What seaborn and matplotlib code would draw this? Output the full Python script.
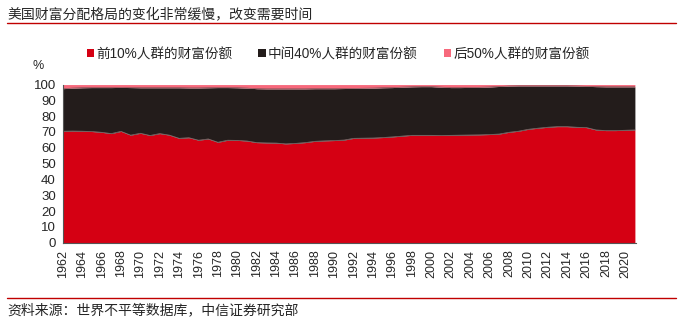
import matplotlib
matplotlib.use("Agg")
import matplotlib.pyplot as plt
import seaborn as sns
import numpy as np
import pandas as pd
from matplotlib.patches import Patch
from matplotlib.lines import Line2D

years = list(range(1962, 2022))
top10 = [70.5, 70.6, 70.5, 70.3, 69.8, 69.0, 70.4, 68.0, 69.2, 67.8,
         69.0, 68.0, 66.0, 66.4, 64.8, 65.6, 63.5, 64.8, 64.7, 64.3,
         63.3, 63.1, 63.0, 62.5, 62.8, 63.3, 64.1, 64.4, 64.6, 64.9,
         66.0, 66.1, 66.2, 66.5, 66.9, 67.4, 67.9, 67.9, 67.9, 67.8,
         67.9, 68.0, 68.1, 68.2, 68.4, 68.7, 69.8, 70.5, 71.7, 72.4,
         73.0, 73.4, 73.4, 73.0, 72.8, 71.3, 70.9, 70.9, 71.1, 71.3]
middle40 = [26.9, 27.2, 27.5, 27.8, 28.3, 29.1, 27.8, 30.1, 28.8, 30.2,
            29.0, 30.0, 32.0, 31.5, 33.1, 32.4, 34.6, 33.3, 33.3, 33.5,
            34.1, 34.2, 34.3, 34.8, 34.5, 34.0, 33.3, 33.0, 32.8, 32.6,
            31.6, 31.6, 31.6, 31.5, 31.2, 31.0, 30.7, 30.8, 30.8, 30.6,
            30.2, 30.1, 30.1, 30.1, 30.1, 30.1, 29.3, 28.7, 27.5, 26.8,
            26.2, 25.8, 25.8, 26.1, 26.1, 27.4, 27.7, 27.7, 27.5, 27.3]
bottom50 = [2.6, 2.2, 2.0, 1.9, 1.9, 1.9, 1.8, 1.9, 2.0, 2.0,
            2.0, 2.0, 2.0, 2.1, 2.1, 2.0, 1.9, 1.9, 2.0, 2.2,
            2.6, 2.7, 2.7, 2.7, 2.7, 2.7, 2.6, 2.6, 2.6, 2.5,
            2.4, 2.3, 2.2, 2.0, 1.9, 1.6, 1.4, 1.3, 1.3, 1.6,
            1.9, 1.9, 1.8, 1.7, 1.5, 1.2, 0.9, 0.8, 0.8, 0.8,
            0.8, 0.8, 0.8, 0.9, 1.1, 1.3, 1.4, 1.4, 1.4, 1.4]
series_names = ["前10%人群的财富份额", "中间40%人群的财富份额", "后50%人群的财富份额"]
tick_years = list(range(1962, 2021, 2))
title = "美国财富分配格局的变化非常缓慢，改变需要时间"
source = "资料来源：世界不平等数据库，中信证券研究部"

colors = ["#D50013", "#231C1B", "#F7697C"]

sns.set_style("white")
plt.rcParams['font.family'] = ['Liberation Sans', 'Noto Sans CJK SC', 'DejaVu Sans']

df = pd.DataFrame({"year": years, "top": top10, "mid": middle40, "bot": bottom50})

fig = plt.figure(figsize=(6.83, 3.24), dpi=100)
ax = fig.add_axes([0.092, 0.251, 0.839, 0.488])

ax.stackplot(df["year"], df["top"], df["mid"], df["bot"], colors=colors, linewidth=0)
df["b1"] = df["top"]
df["b2"] = df["top"] + df["mid"]
sns.lineplot(data=df, x="year", y="b1", ax=ax, color="#8a7070", linewidth=0.5)
sns.lineplot(data=df, x="year", y="b2", ax=ax, color="#6a5050", linewidth=0.4)

ax.set_xlim(1962, 2021.1)
ax.set_ylim(0, 100)
ax.set_yticks(range(0, 101, 10))
ax.set_xticks(tick_years)
ax.set_xticklabels([str(y) for y in tick_years], rotation=90, fontsize=9)
ax.tick_params(axis="y", labelsize=9.5, length=3, width=0.8, color="#555555", pad=2)
ax.tick_params(axis="x", length=3, width=0.8, color="#555555", pad=2)
ax.set_xlabel("")
ax.set_ylabel("")
for s in ["top", "right"]:
    ax.spines[s].set_visible(False)
for s in ["left", "bottom"]:
    ax.spines[s].set_color("#555555")
    ax.spines[s].set_linewidth(0.8)

fig.text(0.056, 0.795, "%", fontsize=9, ha="center", va="center")

handles = [Patch(facecolor=c, edgecolor="none") for c in colors]
fig.legend(handles, series_names, loc="center", bbox_to_anchor=(0.495, 0.833), ncol=3,
           frameon=False, fontsize=9.8, handlelength=0.55, handleheight=0.55,
           handletextpad=0.15, columnspacing=1.9)

fig.text(0.011, 0.954, title, fontsize=10, ha="left", va="center")
fig.add_artist(Line2D([0.010, 0.99], [0.928, 0.928], color="#C00000", linewidth=1.0))
fig.add_artist(Line2D([0.010, 0.99], [0.080, 0.080], color="#C00000", linewidth=1.0))
fig.text(0.011, 0.043, source, fontsize=10, ha="left", va="center")

fig.savefig("out.png", dpi=100)
